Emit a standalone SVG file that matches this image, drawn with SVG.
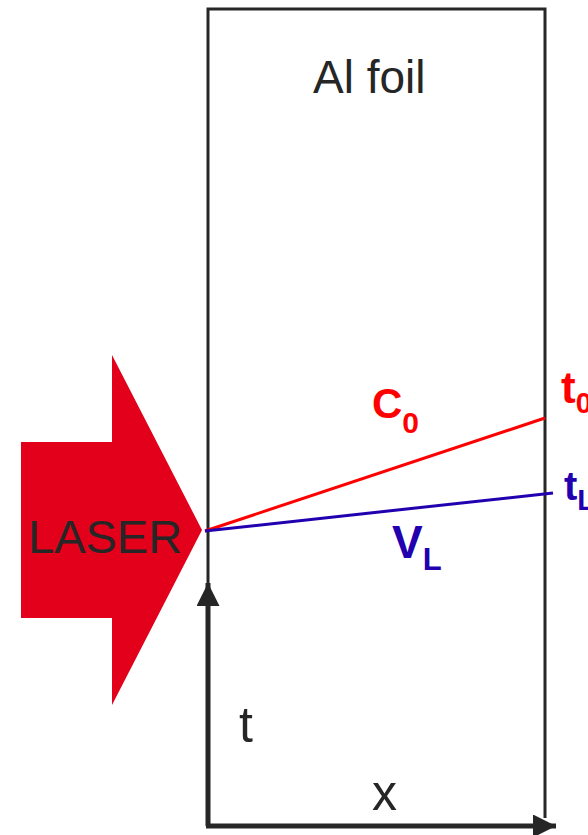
<svg xmlns="http://www.w3.org/2000/svg" width="588" height="835" viewBox="0 0 588 835">
<style>
text{font-family:"Liberation Sans",Arial,sans-serif}
.dk{fill:#262626}
.red{fill:#ff0000;font-weight:bold}
.blue{fill:#2200b0;font-weight:bold}
</style>
<defs>
<marker id="ah" viewBox="0 0 10 10" refX="10" refY="5" markerWidth="4.6" markerHeight="4.6" markerUnits="strokeWidth" orient="auto">
<path d="M0,0 L10,5 L0,10 Z" fill="#262626"/>
</marker>
</defs>
<rect width="588" height="835" fill="#fff"/>
<g id="foil">
<path d="M208,826 V9 H545 V818" fill="none" stroke="#262626" stroke-width="3"/>
<text x="313" y="93" font-size="46" class="dk">Al foil</text>
</g>
<g id="laser">
<polygon points="21,442 112,442 112,355 202,530 112,705 112,618 21,618" fill="#e2001a"/>
<text x="28" y="553" font-size="47" class="dk">LASER</text>
</g>
<g id="connectors">
<line x1="205" y1="531" x2="545" y2="418" stroke="#ff0000" stroke-width="3"/>
<line x1="205" y1="531" x2="553" y2="493" stroke="#2200b0" stroke-width="3"/>
<path d="M208,826 V583" fill="none" stroke="#262626" stroke-width="5" marker-end="url(#ah)"/>
<path d="M206,826 H556" fill="none" stroke="#262626" stroke-width="5" marker-end="url(#ah)"/>
</g>
<g id="labels">
<text x="372" y="418" font-size="42" class="red">C<tspan font-size="30" dy="15">0</tspan></text>
<text x="392" y="558" font-size="46" class="blue">V<tspan font-size="31" dy="12">L</tspan></text>
<text x="561" y="403" font-size="44" class="red">t<tspan font-size="29" dy="10">0</tspan></text>
<text x="564" y="500" font-size="40" class="blue">t<tspan font-size="29" dy="10">L</tspan></text>
<text x="239" y="742" font-size="50" class="dk">t</text>
<text x="372" y="810" font-size="50" class="dk">x</text>
</g>
</svg>
